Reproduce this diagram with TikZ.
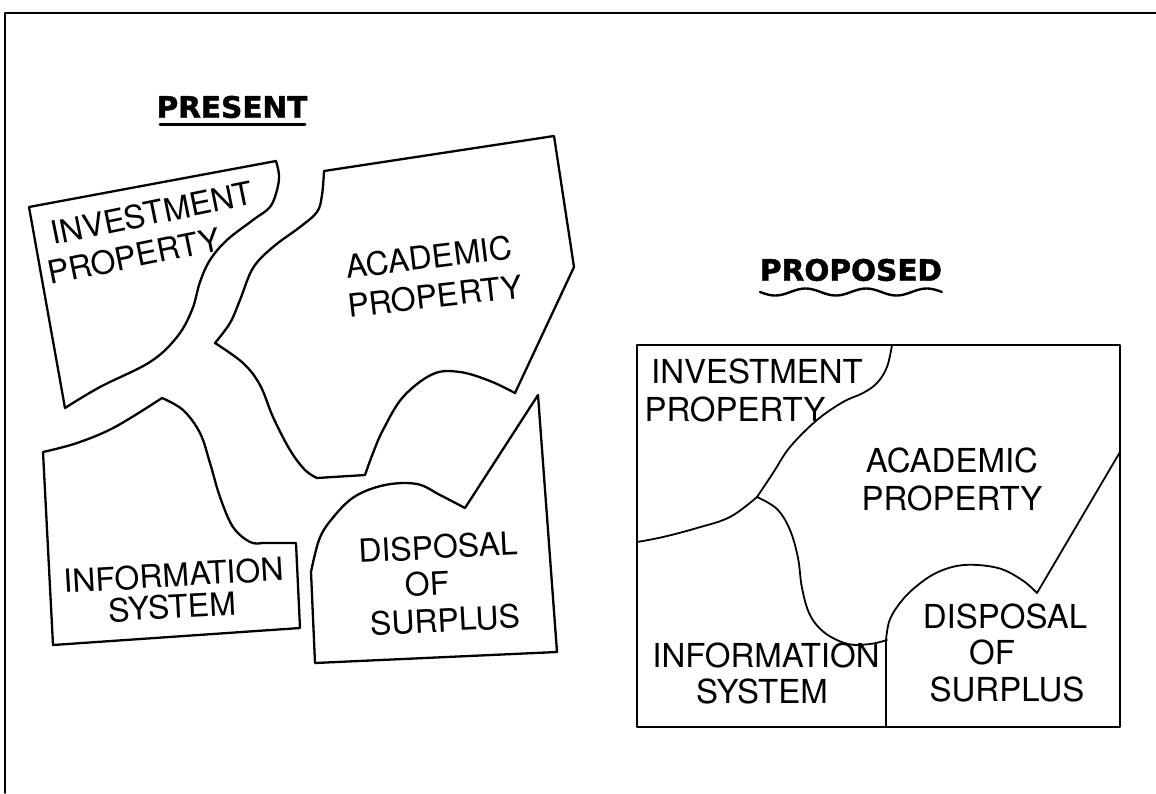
\documentclass[tikz,border=0pt]{standalone}
\usepackage{fontspec}
\setmainfont{TeX Gyre Heros}
\newfontfamily\titlefont[FakeBold=1.6]{DejaVu Sans Bold}
\begin{document}
\begin{tikzpicture}[x=1pt,y=-1pt,line join=round,line cap=round]
\tikzset{
  region/.style={draw=black,line width=2.3pt},
  pline/.style={draw=black,line width=1.8pt},
  lbl/.style={inner sep=0pt,font=\fontsize{32}{34}\selectfont},
  plbl/.style={inner sep=0pt,font=\fontsize{33}{35}\selectfont},
  ttl/.style={inner sep=0pt,font=\titlefont\fontsize{29.5}{32}\selectfont}
}
\useasboundingbox (0,0) rectangle (1156,793);
% frame
\draw[line width=1.8pt] (5,793) -- (5,13) -- (1156,13);

% ---------- PRESENT ----------
\node[ttl] (tpresent) at (232,107) {PRESENT};
\draw[line width=3pt] (160,124) -- (305,124);

% investment property
\draw[region] (29,207) -- (276,161)
  -- plot[smooth,tension=0.6] coordinates {(276,161) (279,175) (277,190) (270,207) (253,220) (227,240) (210,260) (200,282) (192,310) (177,337) (150,362) (100,387) (65,408)}
  -- cycle;
% academic property
\draw[region] (324,171) -- (554,136) -- (574,267) -- (515,393)
  -- plot[smooth,tension=0.6] coordinates {(515,393) (490,381) (460,372) (433,374) (403,397) (383,430) (373,453) (365,475)}
  -- (317,478)
  -- plot[smooth,tension=0.6] coordinates {(317,478) (305,470) (290,450) (273,417) (260,385) (243,363) (215,343)}
  -- plot[smooth,tension=0.6] coordinates {(215,343) (230,323) (240,300) (253,268) (273,247) (300,227) (317,212) (322,195) (324,171)}
  -- cycle;
% information system
\draw[region] (43,452)
  -- plot[smooth,tension=0.6] coordinates {(43,452) (77,443) (115,427) (162,398)}
  -- plot[smooth,tension=0.6] coordinates {(162,398) (183,410) (200,433) (210,463) (220,497) (233,527) (250,542) (262,543)}
  -- (296,543) -- (300,628) -- (53,645) -- cycle;
% disposal of surplus
\draw[region] (311,572)
  -- plot[smooth,tension=0.6] coordinates {(311,572) (319,540) (331,520) (354,497) (385,485) (417,484) (440,495) (465,508)}
  -- (538,395) -- (557,652) -- (315,663) -- cycle;

\node[lbl,rotate=11.5] (pinv1) at (152,213) {INVESTMENT};
\node[lbl,rotate=11.5] (pinv2) at (134,256) {PROPERTY};
\node[lbl,rotate=7] (pacad1) at (429,257) {ACADEMIC};
\node[lbl,rotate=6.5] (pacad2) at (435,296) {PROPERTY};
\node[lbl,rotate=3.3] (pinfo1) at (174,575) {INFORMATION};
\node[lbl,rotate=3] (pinfo2) at (172,607) {SYSTEM};
\node[lbl,rotate=3] (pdisp1) at (438,547) {DISPOSAL};
\node[lbl,rotate=3] (pdisp2) at (427,584) {OF};
\node[lbl,rotate=3] (pdisp3) at (445,620) {SURPLUS};

% ---------- PROPOSED ----------
\node[ttl] (tproposed) at (851,270) {PROPOSED};
\draw[line width=2.4pt] plot[domain=0:1,samples=80,smooth] ({760+182*\x},{292+3.5*sin(\x*3*360)});

\draw[line width=2pt] (637,345) rectangle (1120,727);
\draw[pline] plot[smooth,tension=0.6] coordinates {(892,345) (887,367) (877,383) (863,393) (843,402) (817,420) (790,447) (773,473) (757,497)};
\draw[pline] plot[smooth,tension=0.6] coordinates {(757,497) (730,517) (697,528) (663,537) (637,542)};
\draw[pline] plot[smooth,tension=0.6] coordinates {(757,497) (777,509) (790,530) (798,558) (802,588) (810,615) (825,633) (848,644) (870,644) (887,640)};
\draw[pline] (886,727) -- (886,640)
  -- plot[smooth,tension=0.6] coordinates {(886,640) (889,622) (897,607) (912,590) (936,573) (964,565) (998,568) (1022,580) (1037,593)}
  -- (1120,452);

\node[plbl] (qinv1) at (757,371) {INVESTMENT};
\node[plbl] (qinv2) at (735,409) {PROPERTY};
\node[plbl] (qacad1) at (952,460) {ACADEMIC};
\node[plbl] (qacad2) at (952,498) {PROPERTY};
\node[plbl] (qinfo1) at (766,655) {INFORMATION};
\node[plbl] (qinfo2) at (762,691) {SYSTEM};
\node[plbl] (qdisp1) at (1005,616) {DISPOSAL};
\node[plbl] (qdisp2) at (992,652) {OF};
\node[plbl] (qdisp3) at (1007,689) {SURPLUS};
\end{tikzpicture}
\end{document}
